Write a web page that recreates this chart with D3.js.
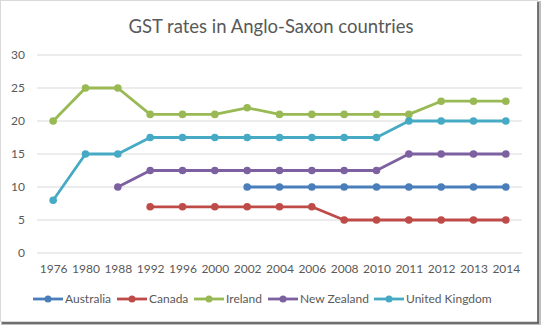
<!DOCTYPE html>
<html>
<head>
<meta charset="utf-8">
<script src="https://cdn.jsdelivr.net/npm/d3@7"></script>
<style>
  body { margin: 0; background: #fff; }
  svg { font-family: Lato, "Open Sans", sans-serif; }
</style>
</head>
<body>
<div id="chart"></div>
<script>
// data
const years = ["1976", "1980", "1988", "1992", "1996", "2000", "2002", "2004", "2006", "2008", "2010", "2011", "2012", "2013", "2014"];
const australia = [null, null, null, null, null, null, 10, 10, 10, 10, 10, 10, 10, 10, 10];
const canada = [null, null, null, 7, 7, 7, 7, 7, 7, 5, 5, 5, 5, 5, 5];
const ireland = [20, 25, 25, 21, 21, 21, 22, 21, 21, 21, 21, 21, 23, 23, 23];
const newZealand = [null, null, 10, 12.5, 12.5, 12.5, 12.5, 12.5, 12.5, 12.5, 12.5, 15, 15, 15, 15];
const unitedKingdom = [8, 15, 15, 17.5, 17.5, 17.5, 17.5, 17.5, 17.5, 17.5, 17.5, 20, 20, 20, 20];
const yTicks = [0, 5, 10, 15, 20, 25, 30];

const series = [
  { name: "Australia", values: australia, color: "#4a7ebb" },
  { name: "Canada", values: canada, color: "#be4b48" },
  { name: "Ireland", values: ireland, color: "#98b954" },
  { name: "New Zealand", values: newZealand, color: "#7d60a0" },
  { name: "United Kingdom", values: unitedKingdom, color: "#46aac5" }
];

const W = 543, H = 327;
const margin = { top: 55, right: 21, bottom: 74, left: 37 };
const width = W - margin.left - margin.right;
const height = H - margin.top - margin.bottom;

const svg = d3.select("#chart").append("svg")
  .attr("width", W)
  .attr("height", H);

// frame with shadow
svg.append("rect").attr("x", 1).attr("y", 1).attr("width", 540).attr("height", 324)
  .attr("fill", "#7f7f7f").attr("opacity", 0.5);
svg.append("rect").attr("x", 0.5).attr("y", 0.5).attr("width", 537).attr("height", 321)
  .attr("fill", "#fff").attr("stroke", "#d9d9d9");
svg.append("line").attr("x1", 538).attr("x2", 538).attr("y1", 2).attr("y2", 323)
  .attr("stroke", "#555").attr("stroke-width", 1.5);
svg.append("line").attr("x1", 2).attr("x2", 539).attr("y1", 323).attr("y2", 323)
  .attr("stroke", "#555").attr("stroke-width", 1.5);

// title
svg.append("text")
  .attr("x", 271).attr("y", 33)
  .attr("text-anchor", "middle")
  .style("font-size", "18.5px")
  .style("fill", "#595959")
  .text("GST rates in Anglo-Saxon countries");

const g = svg.append("g").attr("transform", `translate(${margin.left},${margin.top})`);

const x = d3.scalePoint().domain(years).range([0, width]).padding(0.5);
const y = d3.scaleLinear().domain([0, 30]).range([height, 0]);

// gridlines
g.append("g")
  .selectAll("line")
  .data(yTicks)
  .enter()
  .append("line")
  .attr("x1", 0).attr("x2", width)
  .attr("y1", d => y(d)).attr("y2", d => y(d))
  .attr("stroke", "#d9d9d9");

// Y axis
const yAxis = g.append("g")
  .call(d3.axisLeft(y).tickValues(yTicks).tickSize(0).tickPadding(12));
yAxis.select(".domain").remove();
yAxis.selectAll("text").style("font-size", "12px").style("fill", "#595959")
  .style("font-family", "Lato, sans-serif");

// X axis
const xAxis = g.append("g")
  .attr("transform", `translate(0,${height})`)
  .call(d3.axisBottom(x).tickSize(0).tickPadding(11));
xAxis.select(".domain").remove();
xAxis.selectAll("text").style("font-size", "12px").style("fill", "#595959")
  .style("font-family", "Lato, sans-serif");

const line = d3.line()
  .defined(d => d.v != null)
  .x(d => x(d.year))
  .y(d => y(d.v));

series.forEach(s => {
  const pts = years.map((yr, i) => ({ year: yr, v: s.values[i] }));
  g.append("path")
    .datum(pts)
    .attr("fill", "none")
    .attr("stroke", s.color)
    .attr("stroke-width", 2.8)
    .attr("stroke-linejoin", "round")
    .attr("d", line);
  g.selectAll(null)
    .data(pts.filter(d => d.v != null))
    .enter()
    .append("circle")
    .attr("cx", d => x(d.year))
    .attr("cy", d => y(d.v))
    .attr("r", 3.8)
    .attr("fill", s.color);
});

// legend
const legend = svg.append("g").attr("transform", "translate(0,299)");
const legendX = [33, 117, 194, 268, 374];
series.forEach((s, i) => {
  const item = legend.append("g").attr("transform", `translate(${legendX[i]},0)`);
  item.append("line").attr("x1", 0).attr("x2", 30).attr("y1", 0).attr("y2", 0)
    .attr("stroke", s.color).attr("stroke-width", 2.8);
  item.append("circle").attr("cx", 15).attr("cy", 0).attr("r", 3.5).attr("fill", s.color);
  item.append("text").attr("x", 32).attr("y", 4)
    .style("font-size", "12px").style("fill", "#595959")
    .text(s.name);
});
</script>
</body>
</html>
